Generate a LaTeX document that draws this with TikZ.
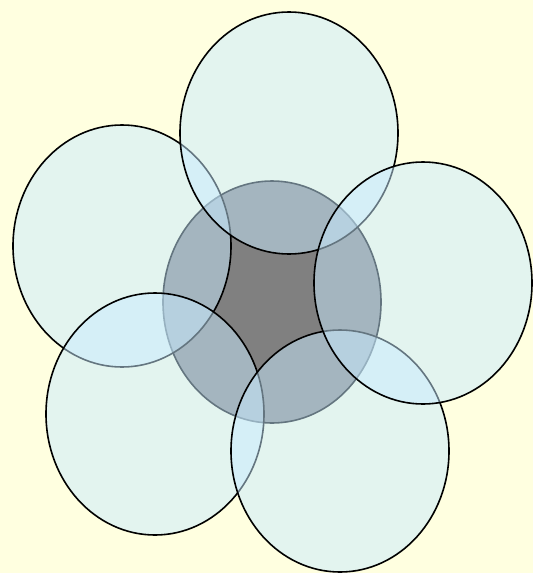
\documentclass[tikz,border=0pt]{standalone}
\usepackage{tikz}
\usetikzlibrary{shapes.geometric}

\definecolor{paper}{RGB}{255,255,224}
\definecolor{petalblue}{RGB}{200,235,255}

\begin{document}
\begin{tikzpicture}[x=1pt, y=-1pt,
  every node/.style={draw=black, ellipse, line width=1.6pt, inner sep=0pt,
    minimum width=218pt, minimum height=242pt},
  core/.style={fill=gray},
  petal/.style={fill=petalblue, fill opacity=0.5}]
  \fill[paper] (0,0) rectangle (533,573);
  \useasboundingbox (0,0) rectangle (533,573);
  \node[core] (hub) at (272,302) {};
  \node[petal] (west) at (122,246) {};
  \node[petal] (southwest) at (155,414) {};
  \node[petal] (southeast) at (340,451) {};
  \node[petal] (north) at (289,133) {};
  \node[petal] (east) at (423,283) {};
\end{tikzpicture}
\end{document}
